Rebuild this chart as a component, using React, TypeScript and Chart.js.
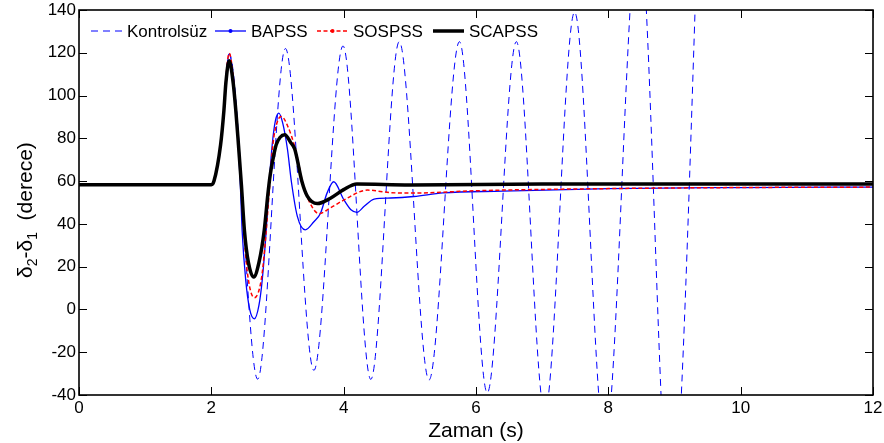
import React, { useEffect, useRef } from "react";
import { Chart, registerables } from "chart.js";

Chart.register(...registerables);

const FONT = "'Liberation Sans', Arial, Helvetica, sans-serif";

// Axis ticks
const xTicks = [0, 2, 4, 6, 8, 10, 12];
const yTicks = [-40, -20, 0, 20, 40, 60, 80, 100, 120, 140];

// Series names
const seriesNames = ["Kontrolsüz", "BAPSS", "SOSPSS", "SCAPSS"];

// Kontrolsüz (uncontrolled) — read extremes of the oscillation
const kontrolsuzT = [0, 2.0, 2.04, 2.14, 2.19, 2.22, 2.27, 2.70, 3.12, 3.55, 3.99, 4.41, 4.84, 5.29, 5.75, 6.17, 6.61, 7.04, 7.49, 7.95, 8.46, 8.94, 9.55, 9.8];
const kontrolsuzV = [58.3, 58.3, 60, 77, 93, 108, 119.5, -32.6, 122, -28.5, 123.2, -32.7, 125.2, -33, 125.2, -39, 125.2, -48, 139, -62, 180, -100, 330, 400];

// BAPSS
const bapssT = [0, 2.0, 2.04, 2.14, 2.19, 2.22, 2.27, 2.33, 2.37, 2.41, 2.44, 2.465, 2.52, 2.58, 2.65, 2.72, 2.77, 2.83, 2.87, 2.92, 2.97, 3.02, 3.08, 3.15, 3.21, 3.30, 3.42, 3.55, 3.65, 3.75, 3.85, 4.0, 4.11, 4.2, 4.31, 4.46, 4.71, 5.06, 5.5, 6.4, 8.0, 10, 12];
const bapssV = [58.3, 58.3, 60, 77, 93, 108, 119.5, 109, 93, 76, 57, 37, 13.6, 0, -4.4, 2, 14, 37, 57, 77, 88.5, 91.8, 87, 75, 59.7, 43.5, 37.2, 41, 45, 54.5, 59.7, 51.4, 46.6, 45.4, 48.2, 51.6, 52.1, 52.8, 54.5, 55.3, 56.5, 57, 57.2];

// SOSPSS
const sospssT = [0, 2.0, 2.04, 2.14, 2.19, 2.22, 2.27, 2.33, 2.37, 2.41, 2.45, 2.49, 2.55, 2.65, 2.76, 2.83, 2.88, 2.93, 3.0, 3.06, 3.15, 3.27, 3.40, 3.55, 3.63, 3.8, 4.0, 4.36, 4.71, 5.06, 6.0, 8.0, 10, 12];
const sospssV = [58.3, 58.3, 60, 77, 93, 108, 119.8, 109, 93, 77, 58, 37, 16, 5.5, 15, 37, 57, 77, 88, 90.2, 86, 75, 57, 46.6, 44.8, 47.5, 51.1, 55.8, 54.6, 54.4, 55.5, 56.5, 57, 57.2];

// SCAPSS
const scapssT = [0, 2.0, 2.04, 2.14, 2.19, 2.22, 2.27, 2.33, 2.37, 2.41, 2.455, 2.50, 2.56, 2.64, 2.72, 2.80, 2.855, 2.89, 2.93, 2.98, 3.04, 3.11, 3.2, 3.26, 3.37, 3.45, 3.6, 3.8, 4.0, 4.2, 5.0, 7.0, 12];
const scapssV = [58.3, 58.3, 60, 77, 93, 106, 116.3, 106, 93, 77, 58, 37, 22, 15.2, 22, 37, 54, 63, 70, 77, 80.5, 81.7, 78, 75, 59.7, 53, 49.5, 52, 56, 58.6, 58.2, 58.6, 58.7];

const zip = (t: number[], v: number[]) => t.map((tt, i) => ({ x: tt, y: v[i] }));

// legend sample start offsets from the left edge of the plot (layout)
const legendOffsets = [12, 136, 238, 354];

const framePlugin = {
  id: "frame",
  afterDatasetsDraw(chart: any) {
    const { ctx, chartArea } = chart;
    const { left, top, right, bottom } = chartArea;
    const xs = chart.scales.x;
    const ys = chart.scales.y;
    ctx.save();
    // inward ticks on all sides
    ctx.strokeStyle = "#000";
    ctx.lineWidth = 1;
    ctx.beginPath();
    for (const v of xTicks) {
      const px = Math.round(xs.getPixelForValue(v)) + 0.5;
      ctx.moveTo(px, bottom);
      ctx.lineTo(px, bottom - 8);
      ctx.moveTo(px, top);
      ctx.lineTo(px, top + 8);
    }
    for (const v of yTicks) {
      const py = Math.round(ys.getPixelForValue(v)) + 0.5;
      ctx.moveTo(left, py);
      ctx.lineTo(left + 8, py);
      ctx.moveTo(right, py);
      ctx.lineTo(right - 8, py);
    }
    ctx.stroke();
    ctx.lineWidth = 1.6;
    ctx.strokeRect(left, top, right - left, bottom - top);

    // legend
    ctx.font = `17px ${FONT}`;
    ctx.textBaseline = "middle";
    ctx.textAlign = "left";
    const ly = top + 21;
    chart.data.datasets
      .slice()
      .sort((a: any, b: any) => a.legendIndex - b.legendIndex)
      .forEach((ds: any, i: number) => {
        const lx = left + legendOffsets[i];
        ctx.save();
        ctx.strokeStyle = ds.borderColor;
        ctx.lineWidth = ds.borderWidth;
        ctx.setLineDash(ds.legendDash || []);
        ctx.beginPath();
        ctx.moveTo(lx, ly);
        ctx.lineTo(lx + 31, ly);
        ctx.stroke();
        ctx.setLineDash([]);
        if (ds.legendMarker) {
          ctx.fillStyle = ds.borderColor;
          ctx.beginPath();
          ctx.arc(lx + 15.5, ly, 2, 0, Math.PI * 2);
          ctx.fill();
        }
        ctx.restore();
        ctx.fillStyle = "#000";
        ctx.fillText(ds.label, lx + 36, ly + 1);
      });

    // x title
    ctx.font = `21px ${FONT}`;
    ctx.textAlign = "center";
    ctx.textBaseline = "alphabetic";
    ctx.fillStyle = "#000";
    ctx.fillText("Zaman (s)", (left + right) / 2, 437);

    // y title with subscripts
    ctx.save();
    ctx.translate(32, 278);
    ctx.rotate(-Math.PI / 2);
    ctx.textAlign = "left";
    ctx.textBaseline = "alphabetic";
    let tx = 0;
    const parts: [string, number, number][] = [
      ["δ", 21, 0],
      ["2", 14, 5],
      ["-", 21, 0],
      ["δ", 21, 0],
      ["1", 14, 5],
      ["  (derece)", 21, 0],
    ];
    for (const [s, size, dy] of parts) {
      ctx.font = `${size}px ${FONT}`;
      ctx.fillText(s, tx, dy);
      tx += ctx.measureText(s).width;
    }
    ctx.restore();

    ctx.restore();
  },
};

export default function App() {
  const ref = useRef<HTMLCanvasElement>(null);
  useEffect(() => {
    if (!ref.current) return;
    const chart = new Chart(ref.current, {
      type: "line",
      data: {
        datasets: [
          {
            label: seriesNames[0],
            data: zip(kontrolsuzT, kontrolsuzV),
            borderColor: "#0000ff",
            borderWidth: 1,
            borderDash: [7, 5],
            legendDash: [7, 5],
            legendIndex: 0,
            order: 3,
          } as any,
          {
            label: seriesNames[1],
            data: zip(bapssT, bapssV),
            borderColor: "#0000ff",
            borderWidth: 1.3,
            legendMarker: true,
            legendIndex: 1,
            order: 2,
          } as any,
          {
            label: seriesNames[2],
            data: zip(sospssT, sospssV),
            borderColor: "#ff0000",
            borderWidth: 1.5,
            borderDash: [4, 2.5],
            legendDash: [4, 2.5],
            legendMarker: true,
            legendIndex: 2,
            order: 1,
          } as any,
          {
            label: seriesNames[3],
            data: zip(scapssT, scapssV),
            borderColor: "#000000",
            borderWidth: 3.5,
            legendIndex: 3,
            order: 0,
          } as any,
        ],
      },
      options: {
        animation: false,
        responsive: false,
        maintainAspectRatio: false,
        layout: { padding: { top: 10, right: 11, left: 0, bottom: 0 } },
        elements: {
          point: { radius: 0 },
          line: { cubicInterpolationMode: "monotone", fill: false },
        },
        plugins: {
          legend: { display: false },
          tooltip: { enabled: false },
        },
        scales: {
          x: {
            type: "linear",
            min: 0,
            max: 12,
            ticks: {
              stepSize: 2,
              color: "#000",
              font: { family: FONT, size: 17 },
              padding: 3,
              maxRotation: 0,
            },
            grid: { display: false, drawTicks: false },
            border: { display: false },
            afterFit: (s: any) => {
              s.height = 48;
              s.paddingLeft = 0;
              s.paddingRight = 0;
            },
          },
          y: {
            type: "linear",
            min: -40,
            max: 140,
            ticks: {
              stepSize: 20,
              color: "#000",
              font: { family: FONT, size: 17 },
              padding: 3,
            },
            grid: { display: false, drawTicks: false },
            border: { display: false },
            afterFit: (s: any) => {
              s.width = 79;
              s.paddingTop = 0;
              s.paddingBottom = 0;
            },
          },
        },
      },
      plugins: [framePlugin],
    });
    return () => chart.destroy();
  }, []);
  return (
    <div style={{ position: "absolute", left: 0, top: 0, width: 884, height: 443, background: "#fff" }}>
      <canvas ref={ref} width={884} height={443} style={{ display: "block" }} />
    </div>
  );
}
